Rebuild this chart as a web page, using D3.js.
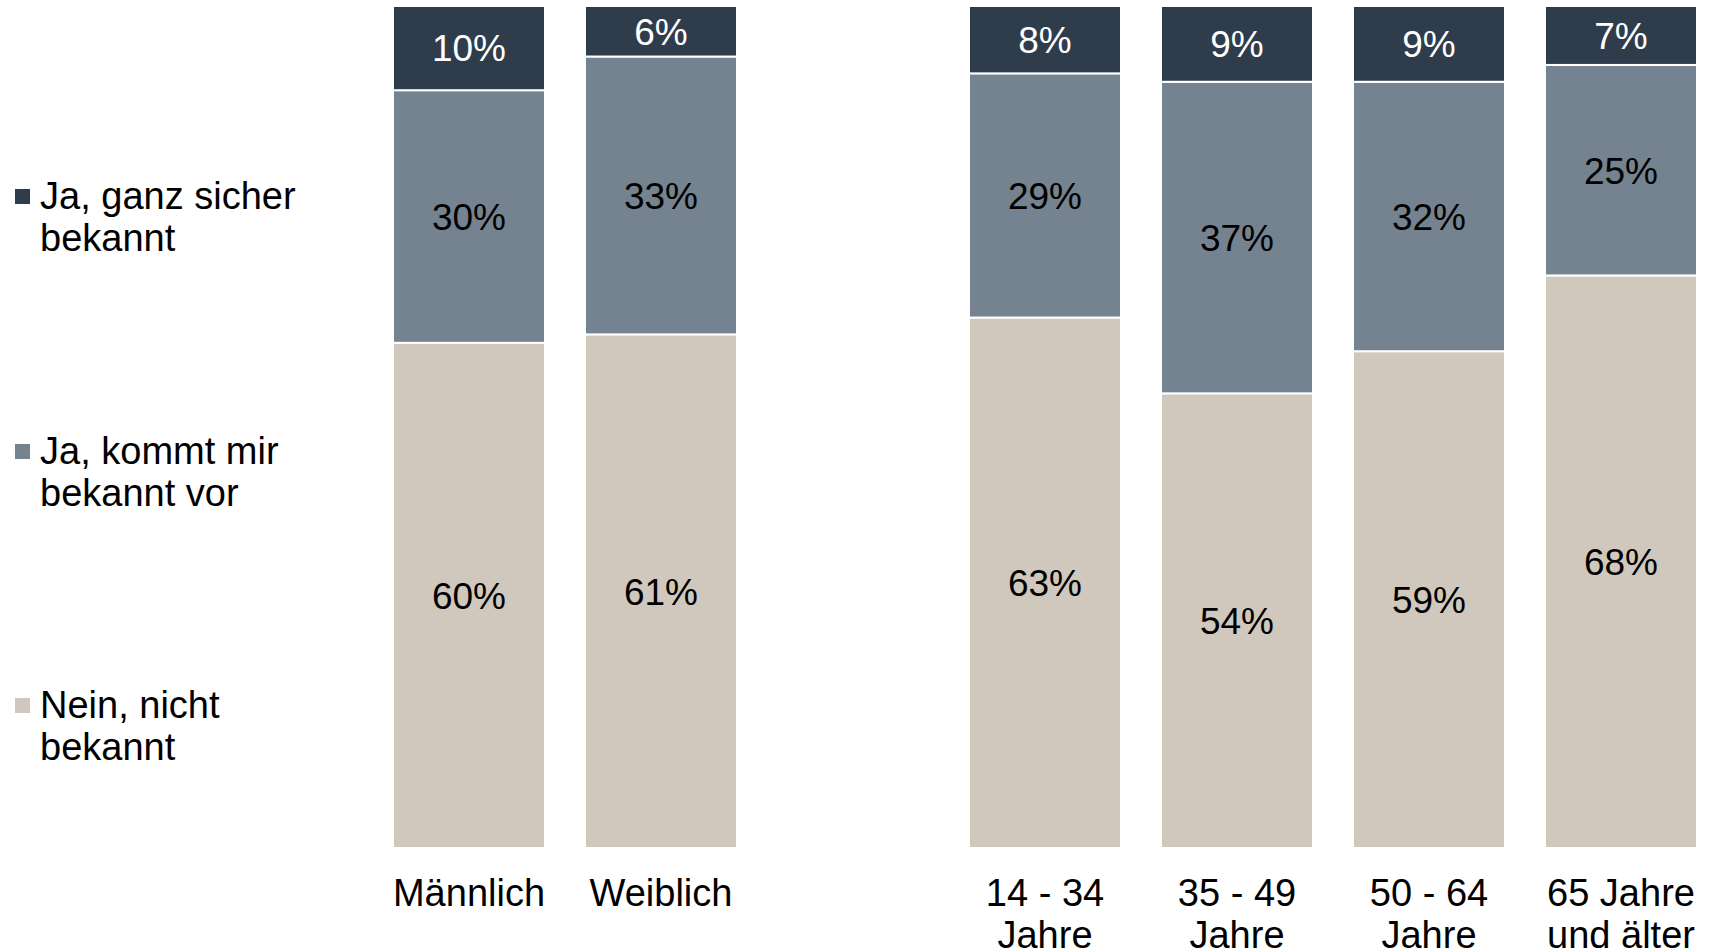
<!DOCTYPE html>
<html>
<head>
<meta charset="utf-8">
<script src="https://cdn.jsdelivr.net/npm/d3@7"></script>
<style>
  body { margin: 0; background: #fff; }
  svg text { font-family: "Liberation Sans", Arial, sans-serif; }
</style>
</head>
<body>
<div id="chart"></div>
<script>
// Categories (empty string is the spacer slot between gender and age groups)
const groups = ["Männlich", "Weiblich", "", "14 - 34 Jahre", "35 - 49 Jahre", "50 - 64 Jahre", "65 Jahre und älter"];
const groupLines = [["Männlich"], ["Weiblich"], [], ["14 - 34", "Jahre"], ["35 - 49", "Jahre"], ["50 - 64", "Jahre"], ["65 Jahre", "und älter"]];

// Series, stacked bottom to top
const seriesNames = ["Nein, nicht bekannt", "Ja, kommt mir bekannt vor", "Ja, ganz sicher bekannt"];
const neinValues  = [60, 61, null, 63, 54, 59, 68];
const kommtValues = [30, 33, null, 29, 37, 32, 25];
const sicherValues = [10, 6, null, 8, 9, 9, 7];

// Legend entries, top to bottom
const legendLines = [["Ja, ganz sicher", "bekannt"], ["Ja, kommt mir", "bekannt vor"], ["Nein, nicht", "bekannt"]];

const colors = ["#d0c8bc", "#74838f", "#2e3c4c"];
const legendColors = ["#2e3c4c", "#74838f", "#d0c8bc"];

const width = 1710, height = 951;

const svg = d3.select("#chart")
  .append("svg")
    .attr("width", width)
    .attr("height", height);

const x = d3.scaleBand()
  .domain(groups)
  .range([393, 1697])
  .paddingInner(40 / 192)
  .paddingOuter(0);

const y = d3.scaleLinear()
  .domain([0, 100])
  .range([848, 6]);

// build table for d3.stack
const table = groups.map((g, i) => ({
  group: g,
  nein: neinValues[i],
  kommt: kommtValues[i],
  sicher: sicherValues[i]
})).filter(d => d.group !== "");

const stack = d3.stack().keys(["nein", "kommt", "sicher"]);
const layers = stack(table);

const layerG = svg.append("g")
  .selectAll("g")
  .data(layers)
  .join("g")
    .attr("fill", (d, i) => colors[i]);

layerG.selectAll("rect")
  .data(d => d)
  .join("rect")
    .attr("x", d => x(d.data.group))
    .attr("width", x.bandwidth())
    .attr("y", d => y(d[1]))
    .attr("height", d => y(d[0]) - y(d[1]))
    .attr("stroke", "#fff")
    .attr("stroke-width", 2);

// value labels
layers.forEach((layer, i) => {
  svg.append("g")
    .selectAll("text")
    .data(layer)
    .join("text")
      .attr("x", d => x(d.data.group) + x.bandwidth() / 2)
      .attr("y", d => (y(d[0]) + y(d[1])) / 2)
      .attr("dy", "0.36em")
      .attr("text-anchor", "middle")
      .attr("font-size", 37)
      .attr("fill", i === 2 ? "#fff" : "#000")
      .text(d => (d[1] - d[0]) + "%");
});

// category labels
const catG = svg.append("g");
groups.forEach((g, i) => {
  groupLines[i].forEach((line, j) => {
    catG.append("text")
      .attr("x", x(g) + x.bandwidth() / 2)
      .attr("y", 906 + j * 42)
      .attr("text-anchor", "middle")
      .attr("font-size", 38)
      .attr("fill", "#000")
      .text(line);
  });
});

// legend
const legendY = [209, 464, 718];
const legend = svg.append("g");
legendLines.forEach((lines, i) => {
  legend.append("rect")
    .attr("x", 15)
    .attr("y", legendY[i] - 20)
    .attr("width", 15)
    .attr("height", 15)
    .attr("fill", legendColors[i]);
  lines.forEach((line, j) => {
    legend.append("text")
      .attr("x", 40)
      .attr("y", legendY[i] + j * 42)
      .attr("font-size", 38)
      .attr("fill", "#000")
      .text(line);
  });
});
</script>
</body>
</html>
